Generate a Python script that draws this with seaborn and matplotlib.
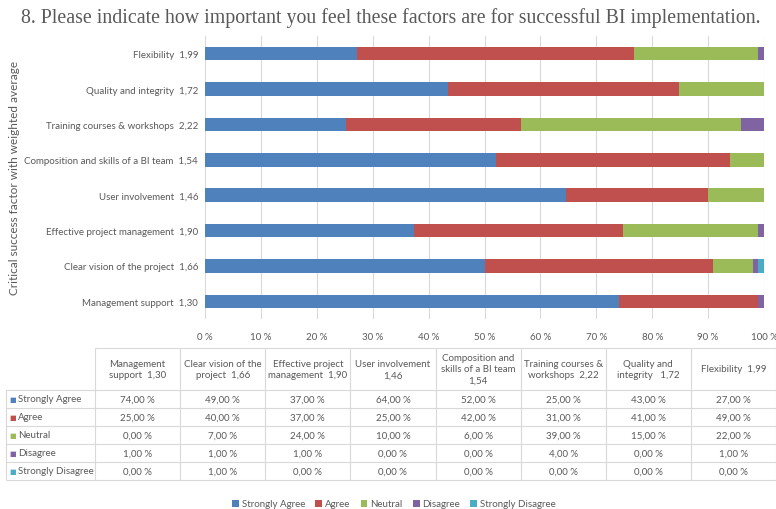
import numpy as np
import pandas as pd
import matplotlib
matplotlib.use("Agg")
import matplotlib.pyplot as plt
import seaborn as sns
from matplotlib.patches import Patch

# -----------------------------
# Data (read from the survey table)
# -----------------------------
factors = [
    "Management support",
    "Clear vision of the project",
    "Effective project management",
    "User involvement",
    "Composition and skills of a BI team",
    "Training courses & workshops",
    "Quality and integrity",
    "Flexibility",
]
averages = [1.30, 1.66, 1.90, 1.46, 1.54, 2.22, 1.72, 1.99]

strongly_agree = [74, 49, 37, 64, 52, 25, 43, 27]
agree = [25, 40, 37, 25, 42, 31, 41, 49]
neutral = [0, 7, 24, 10, 6, 39, 15, 22]
disagree = [1, 1, 1, 0, 0, 4, 0, 1]
strongly_disagree = [0, 1, 0, 0, 0, 0, 0, 0]

answers = ["Strongly Agree", "Agree", "Neutral", "Disagree", "Strongly Disagree"]
colors = ["#4F81BD", "#C0504D", "#9BBB59", "#8064A2", "#4BACC6"]

table_headers = [
    "Management\nsupport  1,30",
    "Clear vision of the\nproject  1,66",
    "Effective project\nmanagement  1,90",
    "User involvement\n1,46",
    "Composition and\nskills of a BI team\n1,54",
    "Training courses &\nworkshops  2,22",
    "Quality and\nintegrity   1,72",
    "Flexibility  1,99",
]

title = "8. Please indicate how important you feel these factors are for successful BI implementation."
ylabel = "Critical success factor with weighted average"


def comma(v, fmt="{:.2f}"):
    return fmt.format(v).replace(".", ",")


# -----------------------------
# Build stacked (100 %) frame
# -----------------------------
labels = [f"{f}  {comma(a)}" for f, a in zip(factors, averages)]
df = pd.DataFrame({
    "label": labels,
    "Strongly Agree": strongly_agree,
    "Agree": agree,
    "Neutral": neutral,
    "Disagree": disagree,
    "Strongly Disagree": strongly_disagree,
})
totals = df[answers].sum(axis=1)
cum = df[answers].div(totals, axis=0).cumsum(axis=1) * 100
cum["label"] = df["label"]
order = labels[::-1]

# -----------------------------
# Figure
# -----------------------------
sns.set_style("white")
plt.rcParams["font.family"] = ["Lato", "DejaVu Sans"]
text_col = "#595959"

fig = plt.figure(figsize=(7.76, 5.10), dpi=100)
W, H = 776, 510
ax = fig.add_axes([205 / W, 1 - 320 / H, 559 / W, 283 / H])

for ans, col in reversed(list(zip(answers, colors))):
    sns.barplot(data=cum, x=ans, y="label", order=order, color=col,
                saturation=1, width=0.38, ax=ax, zorder=3, linewidth=0)

ax.set_xlim(0, 100)
ax.set_xticks(np.arange(0, 101, 10))
ax.set_xticklabels([f"{t} %" for t in range(0, 101, 10)])
ax.grid(axis="x", color="#D9D9D9", linewidth=0.8, zorder=0)
ax.set_axisbelow(True)
sns.despine(ax=ax, left=True, bottom=True)
ax.tick_params(axis="x", length=0, pad=9, labelsize=7, labelcolor=text_col)
ax.tick_params(axis="y", length=0, pad=5, labelsize=7, labelcolor=text_col)
ax.set_xlabel("")
ax.set_ylabel("")

fig.text(391 / W, 1 - 18 / H, title, ha="center", va="center",
         fontsize=14.3, color=text_col, family="Liberation Serif")
fig.text(15 / W, 1 - 178 / H, ylabel, rotation=90, ha="center", va="center",
         fontsize=8.5, color=text_col)

# -----------------------------
# Data table below the chart
# -----------------------------
tax = fig.add_axes([0, 0, 1, 1])
tax.set_xlim(0, W)
tax.set_ylim(H, 0)
tax.axis("off")
tax.patch.set_alpha(0)

grid_col = "#D9D9D9"
x0, x1, x_end = 6, 95, 776
col_w = (x_end - x1) / len(factors)
col_edges = [x1 + i * col_w for i in range(len(factors) + 1)]
y_top, y_head = 349, 391
row_h = 18
row_edges = [y_head + i * row_h for i in range(len(answers) + 1)]

tax.hlines(y_top, x1, x_end, color=grid_col, lw=0.8)
tax.hlines(row_edges, x0, x_end, color=grid_col, lw=0.8)
tax.vlines(x0, y_head, row_edges[-1], color=grid_col, lw=0.8)
tax.vlines(col_edges, y_top, row_edges[-1], color=grid_col, lw=0.8)

for i, h in enumerate(table_headers):
    tax.text((col_edges[i] + col_edges[i + 1]) / 2, (y_top + y_head) / 2, h,
             ha="center", va="center", fontsize=7, color=text_col,
             linespacing=1.35)

series = [strongly_agree, agree, neutral, disagree, strongly_disagree]
for r, (ans, col, vals) in enumerate(zip(answers, colors, series)):
    yc = (row_edges[r] + row_edges[r + 1]) / 2
    tax.text(9, yc, "\u25A0", ha="left", va="center", fontsize=5, color=col,
             family="DejaVu Sans")
    tax.text(18, yc, ans, ha="left", va="center", fontsize=7, color=text_col)
    for i, v in enumerate(vals):
        tax.text((col_edges[i] + col_edges[i + 1]) / 2, yc, comma(v) + " %",
                 ha="center", va="center", fontsize=7, color=text_col)

# -----------------------------
# Legend
# -----------------------------
handles = [Patch(facecolor=c, edgecolor="none", label=a) for a, c in zip(answers, colors)]
fig.legend(handles=handles, loc="center", bbox_to_anchor=(394 / W, 1 - 505 / H),
           ncol=5, frameon=False, fontsize=7, handlelength=0.7, handleheight=0.7,
           handletextpad=0.3, columnspacing=1.05, labelcolor=text_col)

fig.savefig("out.png", dpi=100)
